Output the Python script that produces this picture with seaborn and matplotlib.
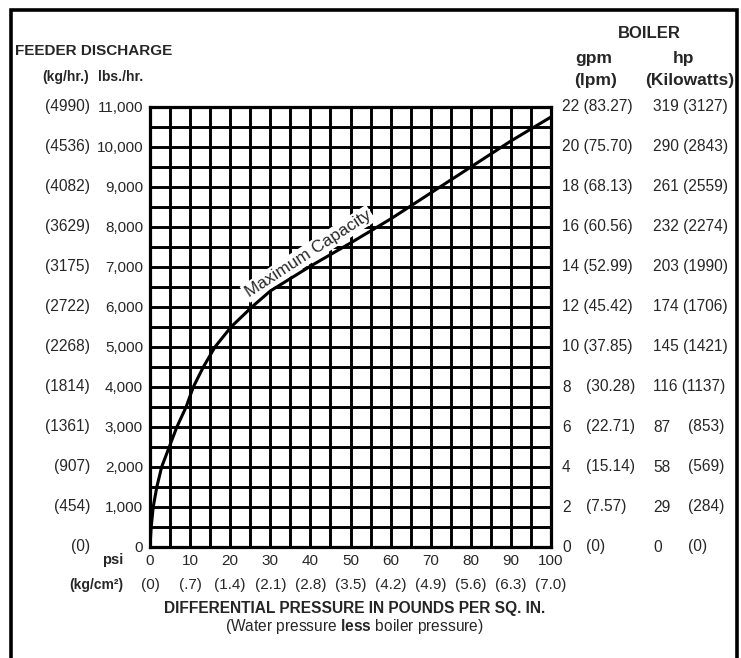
import matplotlib
matplotlib.use("Agg")
import matplotlib.pyplot as plt
import matplotlib.transforms as mtransforms
from matplotlib.patches import Rectangle
from matplotlib.ticker import MultipleLocator, FuncFormatter
import seaborn as sns
import pandas as pd

# ---- data -------------------------------------------------------------
psi_ticks = [0, 10, 20, 30, 40, 50, 60, 70, 80, 90, 100]
kgcm_labels = ["(0)", "(.7)", "(1.4)", "(2.1)", "(2.8)", "(3.5)", "(4.2)",
               "(4.9)", "(5.6)", "(6.3)", "(7.0)"]

lbs_ticks = [0, 1000, 2000, 3000, 4000, 5000, 6000, 7000, 8000, 9000, 10000, 11000]
kg_labels = ["(0)", "(454)", "(907)", "(1361)", "(1814)", "(2268)", "(2722)",
             "(3175)", "(3629)", "(4082)", "(4536)", "(4990)"]

gpm = [0, 2, 4, 6, 8, 10, 12, 14, 16, 18, 20, 22]
lpm = ["(0)", "(7.57)", "(15.14)", "(22.71)", "(30.28)", "(37.85)", "(45.42)",
       "(52.99)", "(60.56)", "(68.13)", "(75.70)", "(83.27)"]
hp = [0, 29, 58, 87, 116, 145, 174, 203, 232, 261, 290, 319]
kw = ["(0)", "(284)", "(569)", "(853)", "(1137)", "(1421)", "(1706)",
      "(1990)", "(2274)", "(2559)", "(2843)", "(3127)"]

# maximum capacity curve (psi, lbs/hr)
curve_psi = [0, 0.3, 0.8, 1.7, 2.9, 4.8, 6.7, 9.0, 10.8, 13.3, 16.2, 20.2, 25.4,
             30, 40, 50, 60, 70, 80, 90, 100]
curve_lbs = [0, 500, 1000, 1500, 2000, 2500, 3000, 3500, 4000, 4500, 5000, 5500, 6000,
             6400, 7020, 7600, 8200, 8850, 9500, 10150, 10750]

# ---- style ------------------------------------------------------------
sns.set_style("white")
plt.rcParams["font.family"] = ["Liberation Sans", "DejaVu Sans"]
plt.rcParams["mathtext.fontset"] = "custom"
plt.rcParams["mathtext.rm"] = "Liberation Sans"
plt.rcParams["mathtext.bf"] = "Liberation Sans:bold"

W, H = 741, 658
fig = plt.figure(figsize=(W / 100, H / 100), dpi=100)
fig.patch.set_facecolor("white")


def fx(px):
    return px / W


def fy(py):
    return 1 - py / H


ax = fig.add_axes([fx(150), fy(547), fx(551) - fx(150), fy(107) - fy(547)])

df = pd.DataFrame({"psi": curve_psi, "lbs": curve_lbs})
sns.lineplot(data=df, x="psi", y="lbs", ax=ax, color="black", lw=2.2,
             zorder=5, sort=False)

ax.set_xlim(0, 100)
ax.set_ylim(0, 11000)
ax.xaxis.set_minor_locator(MultipleLocator(5))
ax.yaxis.set_minor_locator(MultipleLocator(500))
ax.set_xticks(psi_ticks)
ax.set_yticks(lbs_ticks)
ax.yaxis.set_major_formatter(FuncFormatter(lambda v, p: f"{int(v):,}"))
ax.grid(which="both", color="black", lw=2.1)
ax.set_axisbelow(True)
for s in ax.spines.values():
    s.set_color("black")
    s.set_linewidth(2.3)
ax.tick_params(which="both", length=0)
ax.tick_params(axis="y", pad=5, labelsize=11)
ax.tick_params(axis="x", pad=5, labelsize=11)
ax.set_xlabel("")
ax.set_ylabel("")

ax.text(39.4, 7330, "Maximum Capacity", rotation=33, rotation_mode="anchor",
        ha="center", va="center", fontsize=12.4, zorder=4,
        bbox=dict(boxstyle="square,pad=0.12", fc="white", ec="none"))

LBL = 11.2

# left metric column
tr_left = mtransforms.blended_transform_factory(fig.transFigure, ax.transData)
for v, lab in zip(lbs_ticks, kg_labels):
    ax.text(fx(90), v, lab, transform=tr_left, ha="right", va="center",
            fontsize=LBL, clip_on=False)

# right boiler columns
for v, g, l, h, k in zip(lbs_ticks, gpm, lpm, hp, kw):
    if g >= 10:
        ax.text(fx(562), v, f"{g} {l}", transform=tr_left, ha="left",
                va="center", fontsize=LBL, clip_on=False)
    else:
        ax.text(fx(562), v, f"{g}", transform=tr_left, ha="left",
                va="center", fontsize=LBL, clip_on=False)
        ax.text(fx(586), v, l, transform=tr_left, ha="left",
                va="center", fontsize=LBL, clip_on=False)
    if h >= 100:
        ax.text(fx(653), v, f"{h} {k}", transform=tr_left, ha="left",
                va="center", fontsize=LBL, clip_on=False)
    else:
        ax.text(fx(653), v, f"{h}", transform=tr_left, ha="left",
                va="center", fontsize=LBL, clip_on=False)
        ax.text(fx(688), v, k, transform=tr_left, ha="left",
                va="center", fontsize=LBL, clip_on=False)

# bottom metric row
tr_bot = mtransforms.blended_transform_factory(ax.transData, fig.transFigure)
for v, lab in zip(psi_ticks, kgcm_labels):
    ax.text(v, fy(585), lab, transform=tr_bot, ha="center", va="center",
            fontsize=11, clip_on=False)

# headers
fig.text(fx(15), fy(51), "FEEDER DISCHARGE", ha="left", va="center",
         fontsize=11, fontweight="bold")
fig.text(fx(89), fy(77), "(kg/hr.)", ha="right", va="center",
         fontsize=10, fontweight="bold")
fig.text(fx(143), fy(77), "lbs./hr.", ha="right", va="center",
         fontsize=10, fontweight="bold")

fig.text(fx(649), fy(33), "BOILER", ha="center", va="center",
         fontsize=12, fontweight="bold")
fig.text(fx(594), fy(58), "gpm", ha="center", va="center",
         fontsize=12.5, fontweight="bold")
fig.text(fx(684), fy(58), "hp", ha="center", va="center",
         fontsize=12.5, fontweight="bold")
fig.text(fx(596), fy(80), "(lpm)", ha="center", va="center",
         fontsize=12.5, fontweight="bold")
fig.text(fx(690), fy(80), "(Kilowatts)", ha="center", va="center",
         fontsize=12.5, fontweight="bold")

fig.text(fx(123), fy(560), "psi", ha="right", va="center",
         fontsize=10.5, fontweight="bold")
fig.text(fx(123), fy(585), "(kg/cm²)", ha="right", va="center",
         fontsize=10, fontweight="bold")

fig.text(fx(355), fy(608), "DIFFERENTIAL PRESSURE IN POUNDS PER SQ. IN.",
         ha="center", va="center", fontsize=11.2, fontweight="bold")
fig.text(fx(354), fy(627), r"(Water pressure $\bf{less}$ boiler pressure)",
         ha="center", va="center", fontsize=11.2)

# outer frame
fig.patches.append(Rectangle((fx(11), fy(680)), fx(737) - fx(11), fy(10) - fy(680),
                             transform=fig.transFigure, fill=False,
                             ec="black", lw=2.6))

fig.savefig("out.png", dpi=100)
